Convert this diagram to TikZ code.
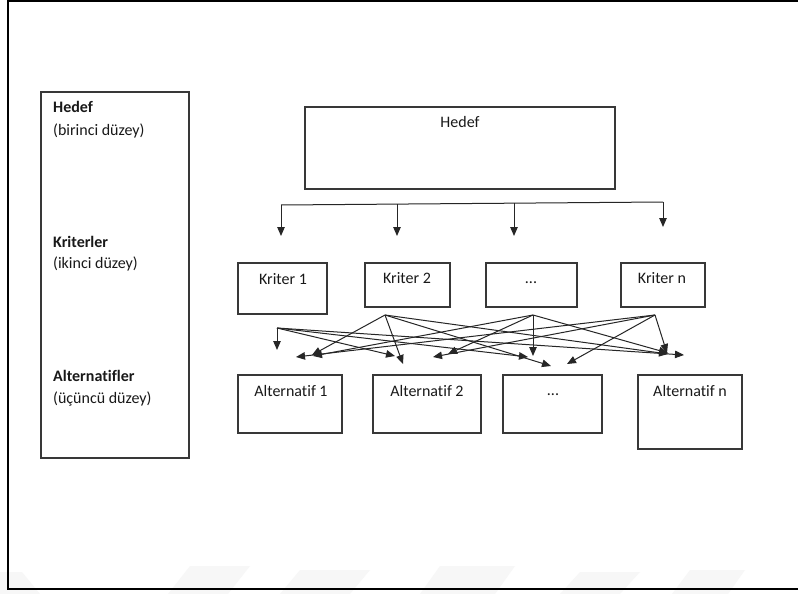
\documentclass[tikz,border=0pt]{standalone}
\usepackage{fontspec}
\setmainfont[Ligatures={NoCommon,NoContextual}]{Carlito}
\usetikzlibrary{arrows.meta}
\begin{document}
\begin{tikzpicture}[x=1pt,y=-1pt,
  box/.style={draw=black!78,line width=1.1pt,inner sep=0pt,rectangle},
  lbl/.style={inner sep=0pt,anchor=base,font=\fontsize{16}{19}\selectfont,text=black!90},
  side/.style={inner sep=0pt,anchor=base west,font=\fontsize{16}{19}\selectfont,text=black!90},
  conn/.style={draw=black!85,line width=1pt,-{Triangle[length=9pt,width=7.5pt]}},
  bar/.style={draw=black!85,line width=1pt}]
\useasboundingbox (0,0) rectangle (798,594);
\begin{scope}
\clip (0,0) rectangle (798,594);
\fill[white] (0,0) rectangle (798,594);
% faint watermark shapes
\fill[black!3] (0,572) -- (22,572) -- (40,594) -- (0,594) -- cycle;
\fill[black!3] (190,566) -- (250,566) -- (228,594) -- (168,594) -- cycle;
\fill[black!3] (300,570) -- (370,570) -- (350,594) -- (280,594) -- cycle;
\fill[black!3] (440,566) -- (515,566) -- (495,594) -- (420,594) -- cycle;
\fill[black!3] (580,572) -- (640,572) -- (620,594) -- (560,594) -- cycle;
\fill[black!3] (690,570) -- (745,570) -- (728,594) -- (672,594) -- cycle;
\draw[line width=2.2pt,black] (8,1) rectangle (812,589);
\end{scope}

% left legend box
\node[box,minimum width=148pt,minimum height=366pt] (legend) at (115,275) {};
\node[side,font=\bfseries\fontsize{16}{19}\selectfont] (l1) at (53,112) {Hedef};
\node[side] (l2) at (53,135) {(birinci düzey)};
\node[side,font=\bfseries\fontsize{16}{19}\selectfont] (l3) at (53,247) {Kriterler};
\node[side] (l4) at (53,268) {(ikinci düzey)};
\node[side,font=\bfseries\fontsize{16}{19}\selectfont] (l5) at (53,381) {Alternatifler};
\node[side] (l6) at (53,403) {(üçüncü düzey)};

% goal
\node[box,minimum width=310pt,minimum height=82pt] (goal) at (460,148) {};
\node[lbl] (goalt) at (460,127) {Hedef};

% criteria
\node[box,minimum width=89pt,minimum height=51pt] (k1) at (282.5,288.5) {};
\node[box,minimum width=85pt,minimum height=44pt] (k2) at (407.5,285) {};
\node[box,minimum width=91pt,minimum height=44pt] (k3) at (531.5,285) {};
\node[box,minimum width=84pt,minimum height=44pt] (k4) at (663,285) {};
\node[lbl] (k1t) at (283,284) {Kriter 1};
\node[lbl] (k2t) at (407,283) {Kriter 2};
\node[lbl] (k3t) at (531,283) {...};
\node[lbl] (k4t) at (662,283) {Kriter n};

% alternatives
\node[box,minimum width=104pt,minimum height=58pt] (a1) at (290,404) {};
\node[box,minimum width=108pt,minimum height=58pt] (a2) at (427,404) {};
\node[box,minimum width=99pt,minimum height=58pt] (a3) at (552.5,404) {};
\node[box,minimum width=104pt,minimum height=74pt] (a4) at (690,412) {};
\node[lbl] (a1t) at (291,396) {Alternatif 1};
\node[lbl] (a2t) at (427,396) {Alternatif 2};
\node[lbl] (a3t) at (553,395) {...};
\node[lbl] (a4t) at (690,396) {Alternatif n};

% distributor from goal to criteria
\coordinate (d1) at (281,205);
\coordinate (d2) at (397,204.1);
\coordinate (d3) at (514,203.2);
\coordinate (d4) at (663,202);
\coordinate (e1) at (281,236);
\coordinate (e2) at (397,236);
\coordinate (e3) at (514,236);
\coordinate (e4) at (663,227);
\draw[bar] (d1) -- (d4);
\draw[conn] (d1) -- (e1);
\draw[conn] (d2) -- (e2);
\draw[conn] (d3) -- (e3);
\draw[conn] (d4) -- (e4);

% fan from criteria to alternatives
\coordinate (s1) at (277,328);
\coordinate (s2) at (385,315);
\coordinate (s3) at (533,315);
\coordinate (s4) at (655,315);

\coordinate (t11) at (277,350);
\coordinate (t12) at (395,356);
\coordinate (t13) at (528,357);
\coordinate (t14) at (684,355);
\coordinate (t21) at (312,355);
\coordinate (t22) at (403,364);
\coordinate (t23) at (551,366);
\coordinate (t24) at (668,354);
\coordinate (t31) at (313,356);
\coordinate (t32) at (448,354);
\coordinate (t33) at (533,356);
\coordinate (t34) at (668,353);
\coordinate (t41) at (296,357);
\coordinate (t42) at (433,357);
\coordinate (t43) at (567,364);
\coordinate (t44) at (667,353);

\foreach \s/\t in {s1/t11,s1/t12,s1/t13,s1/t14,
                   s2/t21,s2/t22,s2/t23,s2/t24,
                   s3/t31,s3/t32,s3/t33,s3/t34,
                   s4/t41,s4/t42,s4/t43,s4/t44}
  \draw[conn] (\s) -- (\t);
\end{tikzpicture}
\end{document}
